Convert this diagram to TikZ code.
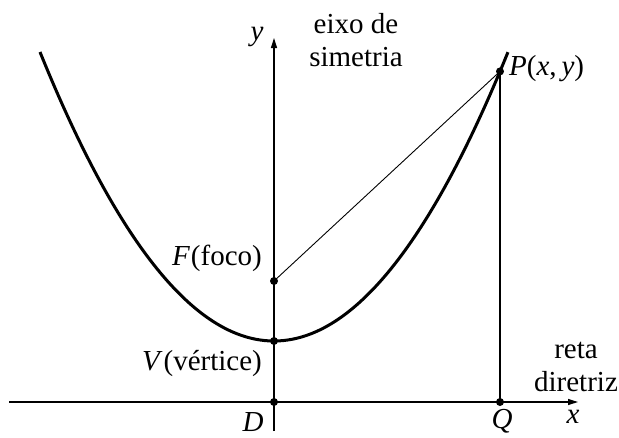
\documentclass[tikz,border=0pt]{standalone}
\usepackage{fontspec}
\setmainfont{Liberation Serif}
\usetikzlibrary{arrows.meta}
\tikzset{
  lbl/.style={inner sep=0pt, font=\fontsize{29}{33}\selectfont},
  axis/.style={line width=1.3pt, -{Triangle[length=10pt,width=6pt]}},
  pdot/.style={circle, fill=black, inner sep=0pt, minimum size=8pt},
  curve/.style={line width=3pt},
}
\begin{document}
\begin{tikzpicture}[x=1pt,y=-1pt]
\useasboundingbox (0,0) rectangle (619,437);
% points
\coordinate (V) at (274,341);
\coordinate (F) at (274,281);
\coordinate (D) at (274,402);
\coordinate (Q) at (500,402);
\coordinate (P) at (500,71.4);
\coordinate (xs) at (9,402);
\coordinate (xe) at (578,402);
\coordinate (ys) at (274,431);
\coordinate (ye) at (274,38);
% axes
\draw[axis] (xs) -- (xe);
\draw[axis] (ys) -- (ye);
% parabola
\draw[curve] plot[domain=-2.34:2.34, samples=120, smooth] ({274+100*\x},{341-52.78*\x*\x});
% lines
\draw[line width=0.9pt] (F) -- (P);
\draw[line width=1.4pt] (P) -- (Q);
% dots
\foreach \p in {V,F,D,Q,P} \node[pdot] at (\p) {};
% labels
\node[lbl] (ylab) at (257,37) {\textit{y}};
\node[lbl] (xlab) at (573,417) {\textit{x}};
\node[lbl, align=center] (eixo) at (356,40) {eixo de\\simetria};
\node[lbl, anchor=west] (plab) at (509,69) {\textit{P}\/(\textit{x},\,\textit{y}\/)};
\node[lbl, anchor=east] (flab) at (262,258) {\textit{F}\/\kern1pt(foco)};
\node[lbl, anchor=east] (vlab) at (262,363) {\textit{V}\/\kern1pt(vértice)};
\node[lbl] (dlab) at (253,422) {\textit{D}};
\node[lbl] (qlab) at (502,421) {\textit{Q}};
\node[lbl, align=center] (reta) at (576,367) {reta\\diretriz};
\end{tikzpicture}
\end{document}
